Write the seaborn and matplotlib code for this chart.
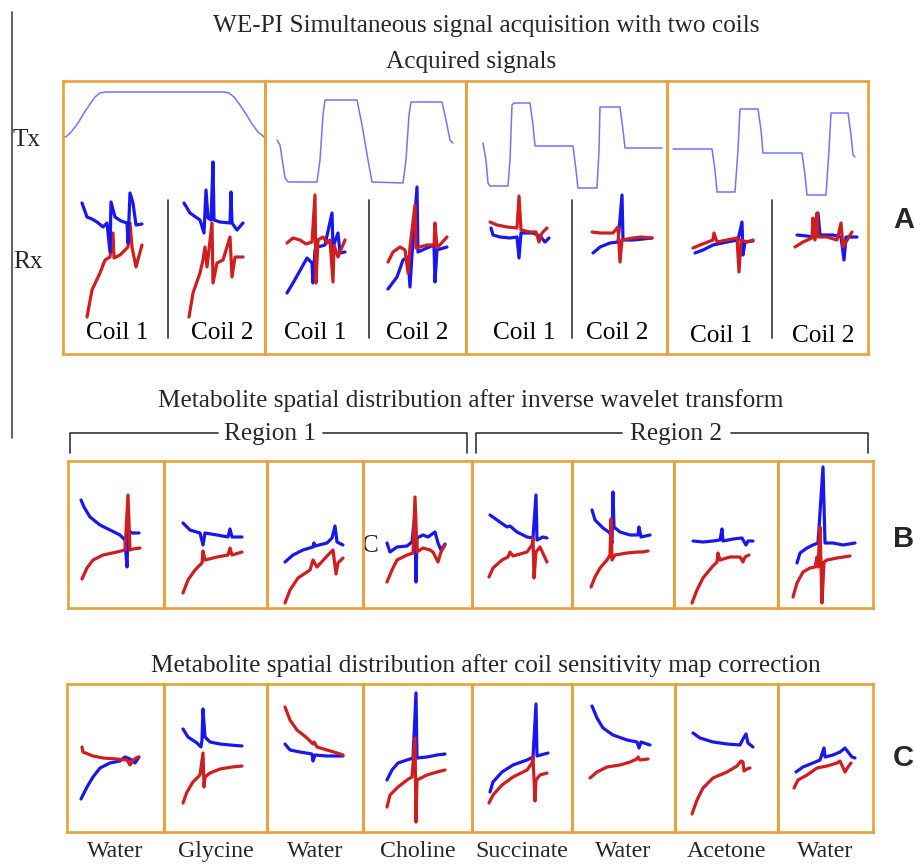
import matplotlib
matplotlib.use("Agg")
import matplotlib.pyplot as plt
import seaborn as sns

# ------------------------------------------------------------------ data
# Panel A (acquired signals): Tx waveform + Rx spectra for coil 1 / coil 2
a1_tx_x = [0, 4, 9, 15, 21, 27, 32, 37, 43, 161, 166, 171, 177, 183, 189, 195, 200, 202]
a1_tx_y = [216, 218, 223, 231, 241, 250, 257, 261, 262, 262, 261, 257, 249, 240, 230, 222, 218, 216]
a1_blue1_x = [19, 24, 29, 34, 40, 44, 47, 48, 52, 58, 64, 65, 67, 70, 73, 79]
a1_blue1_y = [151, 137, 135, 132, 127, 131, 102, 152, 137, 133, 131, 111, 161, 151, 129, 130]
a1_red1_x = [24, 29, 37, 42, 47, 50, 51, 57, 62, 65, 67, 69, 73, 79]
a1_red1_y = [37, 64, 81, 94, 97, 121, 96, 99, 104, 107, 131, 107, 87, 109]
a1_blue2_x = [121, 127, 137, 141, 143, 145, 148, 150, 151, 157, 167, 168, 169, 174, 180]
a1_blue2_y = [151, 141, 134, 121, 164, 136, 134, 192, 134, 132, 131, 162, 131, 124, 131]
a1_red2_x = [126, 130, 137, 140, 142, 144, 149, 150, 154, 160, 167, 169, 172, 180]
a1_red2_y = [37, 61, 81, 94, 107, 87, 131, 71, 91, 94, 117, 77, 97, 97]

a2_tx_x = [12, 15, 20, 23, 52, 55, 58, 60, 92, 97, 103, 107, 138, 141, 144, 146, 177, 181, 185, 188]
a2_tx_y = [214, 209, 176, 172, 172, 194, 239, 254, 254, 229, 194, 172, 171, 194, 239, 252, 252, 234, 214, 211]
a2_blue1_x = [22, 28, 37, 42, 47, 48, 50, 53, 60, 67, 68, 73, 75, 80]
a2_blue1_y = [61, 71, 87, 96, 91, 71, 104, 107, 109, 141, 107, 121, 101, 102]
a2_red1_x = [22, 28, 35, 41, 47, 50, 51, 53, 58, 62, 65, 68, 69, 73, 80]
a2_red1_y = [111, 116, 114, 110, 112, 159, 71, 114, 117, 111, 114, 72, 109, 97, 114]
a2_blue2_x = [123, 132, 138, 143, 145, 147, 152, 153, 162, 169, 170, 172, 182]
a2_blue2_y = [65, 77, 94, 97, 67, 99, 167, 102, 106, 109, 72, 104, 107]
a2_red2_x = [123, 128, 135, 140, 143, 145, 150, 151, 162, 169, 170, 172, 182]
a2_red2_y = [92, 102, 107, 104, 81, 107, 149, 106, 109, 109, 131, 106, 117]

a3_tx_x = [17, 20, 22, 24, 42, 44, 46, 48, 64, 67, 69, 71, 107, 110, 112, 114, 131, 133,
           134, 136, 154, 157, 159, 161, 196]
a3_tx_y = [211, 194, 171, 168, 168, 194, 249, 251, 251, 229, 208, 208, 208, 184, 166, 166,
           166, 204, 247, 247, 247, 224, 206, 206, 206]
a3_blue1_x = [25, 27, 34, 44, 51, 53, 55, 67, 74, 79, 83]
a3_blue1_y = [126, 119, 117, 116, 117, 96, 121, 121, 118, 112, 116]
a3_red1_x = [24, 31, 41, 51, 53, 55, 64, 70, 73, 76, 81]
a3_red1_y = [132, 129, 127, 126, 158, 124, 122, 122, 112, 121, 126]
a3_blue2_x = [127, 134, 144, 152, 156, 157, 167, 177, 186]
a3_blue2_y = [101, 107, 111, 112, 159, 114, 114, 115, 116]
a3_red2_x = [126, 134, 147, 152, 154, 156, 167, 175, 186]
a3_red2_y = [122, 121, 121, 127, 92, 114, 116, 117, 116]

a4_tx_x = [6, 45, 48, 50, 68, 71, 73, 91, 94, 96, 135, 138, 140, 159, 162, 164, 181, 184, 186, 188]
a4_tx_y = [205, 205, 184, 162, 162, 204, 245, 245, 224, 201, 201, 179, 159, 159, 204, 241, 241,
           219, 199, 197]
a4_blue1_x = [28, 36, 46, 60, 71, 75, 76, 78, 86]
a4_blue1_y = [101, 104, 109, 112, 114, 132, 99, 112, 113]
a4_red1_x = [26, 33, 46, 47, 50, 60, 70, 72, 74, 80, 86]
a4_red1_y = [106, 109, 114, 121, 112, 114, 116, 82, 114, 112, 114]
a4_blue2_x = [130, 140, 146, 151, 153, 166, 174, 177, 179, 190]
a4_blue2_y = [119, 118, 117, 141, 119, 119, 117, 94, 117, 117]
a4_red2_x = [128, 136, 145, 146, 148, 150, 151, 160, 170, 174, 176, 185]
a4_red2_y = [107, 112, 116, 136, 114, 141, 117, 117, 114, 131, 107, 122]

# Panel B (after inverse wavelet transform)
b1_blue_x = [13, 16, 22, 32, 42, 52, 57, 59, 60, 64, 71]
b1_blue_y = [108, 101, 91, 83, 78, 73, 68, 41, 78, 75, 75]
b1_red_x = [14, 19, 25, 35, 49, 57, 60, 62, 65, 72]
b1_red_y = [29, 40, 48, 53, 56, 58, 113, 58, 59, 60]
b2_blue_x = [19, 26, 36, 39, 41, 53, 64, 66, 68, 78]
b2_blue_y = [85, 78, 75, 63, 75, 73, 71, 79, 71, 71]
b2_red_x = [19, 24, 31, 38, 39, 41, 53, 64, 66, 68, 78]
b2_red_y = [15, 28, 38, 45, 57, 48, 51, 53, 60, 53, 56]
b3_blue_x = [18, 26, 36, 46, 47, 48, 60, 65, 68, 70, 76]
b3_blue_y = [46, 53, 58, 61, 65, 62, 65, 70, 82, 66, 63]
b3_red_x = [18, 23, 31, 43, 46, 50, 61, 66, 69, 71, 76]
b3_red_y = [5, 18, 30, 38, 48, 41, 53, 58, 34, 45, 50]
b4_blue_x = [24, 27, 34, 44, 49, 52, 53, 54, 60, 65, 72, 75, 78, 82]
b4_blue_y = [65, 56, 61, 62, 66, 95, 26, 70, 73, 71, 76, 65, 58, 64]
b4_red_x = [24, 29, 34, 44, 50, 52, 54, 60, 67, 70, 75, 78, 82]
b4_red_y = [26, 38, 48, 53, 55, 111, 56, 60, 58, 56, 46, 56, 63]
b5_blue_x = [18, 25, 35, 38, 45, 55, 61, 64, 65, 71, 75]
b5_blue_y = [93, 88, 81, 82, 76, 71, 70, 113, 68, 71, 70]
b5_red_x = [17, 21, 30, 36, 38, 41, 55, 60, 61, 62, 64, 68, 75]
b5_red_y = [31, 40, 48, 51, 56, 52, 56, 63, 70, 30, 56, 61, 46]
b6_blue_x = [20, 23, 31, 38, 40, 41, 42, 48, 58, 66, 67, 69, 78]
b6_blue_y = [98, 88, 80, 75, 65, 116, 81, 76, 73, 73, 81, 71, 73]
b6_red_x = [19, 23, 28, 35, 38, 39, 40, 43, 55, 65, 70, 76]
b6_red_y = [21, 31, 40, 48, 53, 89, 48, 53, 55, 56, 56, 57]
b7_blue_x = [19, 29, 39, 46, 48, 49, 59, 68, 72, 74, 79]
b7_blue_y = [67, 66, 67, 68, 79, 67, 69, 70, 63, 67, 67]
b7_red_x = [18, 23, 29, 38, 43, 44, 46, 56, 66, 69, 71, 75]
b7_red_y = [5, 18, 30, 41, 46, 55, 48, 51, 51, 46, 51, 53]
b8_blue_x = [19, 22, 29, 35, 40, 45, 47, 55, 65, 77]
b8_blue_y = [45, 55, 60, 63, 65, 141, 65, 65, 63, 65]
b8_red_x = [15, 19, 25, 32, 37, 39, 40, 42, 44, 46, 49, 59, 72]
b8_red_y = [11, 25, 36, 40, 41, 51, 41, 81, 5, 46, 48, 50, 52]

# Panel C (after coil sensitivity map correction)
c1_blue_x = [14, 20, 26, 33, 43, 53, 58, 63, 68, 72]
c1_blue_y = [33, 45, 55, 64, 69, 71, 75, 73, 69, 75]
c1_red_x = [15, 16, 26, 36, 50, 60, 63, 66, 71]
c1_red_y = [85, 80, 76, 74, 73, 72, 67, 72, 75]
c2_blue_x = [19, 24, 33, 37, 38, 39, 41, 46, 56, 66, 78]
c2_blue_y = [103, 95, 89, 85, 92, 123, 95, 90, 88, 87, 86]
c2_red_x = [19, 23, 29, 36, 39, 40, 41, 46, 56, 68, 78]
c2_red_y = [29, 40, 50, 57, 79, 45, 55, 59, 63, 65, 66]
c3_blue_x = [18, 23, 33, 45, 46, 48, 60, 76]
c3_blue_y = [88, 82, 80, 78, 71, 77, 76, 76]
c3_red_x = [18, 23, 30, 40, 46, 47, 50, 60, 70, 76]
c3_red_y = [125, 112, 102, 94, 88, 90, 85, 82, 79, 77]
c4_blue_x = [24, 29, 35, 44, 50, 53, 54, 64, 74, 82]
c4_blue_y = [52, 62, 69, 72, 74, 139, 74, 75, 77, 78]
c4_red_x = [24, 27, 35, 44, 49, 52, 53, 54, 64, 74, 82]
c4_red_y = [25, 37, 45, 52, 55, 94, 10, 52, 57, 60, 62]
c5_blue_x = [18, 21, 30, 41, 55, 61, 64, 65, 76]
c5_blue_y = [40, 50, 60, 67, 72, 75, 128, 76, 79]
c5_red_x = [17, 21, 30, 41, 55, 60, 61, 63, 64, 68, 75]
c5_red_y = [29, 37, 47, 55, 62, 69, 75, 31, 52, 57, 59]
c6_blue_x = [20, 25, 31, 41, 55, 65, 67, 69, 78]
c6_blue_y = [126, 114, 104, 97, 92, 90, 84, 90, 87]
c6_red_x = [18, 25, 35, 48, 58, 65, 66, 68, 76]
c6_red_y = [54, 60, 65, 67, 70, 73, 75, 72, 73]
c7_blue_x = [18, 25, 38, 52, 65, 68, 71, 73, 78]
c7_blue_y = [99, 94, 90, 88, 87, 93, 98, 89, 85]
c7_red_x = [17, 22, 28, 38, 52, 62, 66, 68, 69, 72, 75]
c7_red_y = [18, 32, 44, 54, 60, 66, 71, 70, 61, 63, 64]
c8_blue_x = [18, 25, 35, 42, 46, 47, 55, 62, 67, 70, 74, 77]
c8_blue_y = [60, 65, 69, 72, 84, 75, 77, 80, 84, 80, 75, 74]
c8_red_x = [16, 20, 29, 39, 49, 59, 62, 67, 70, 73]
c8_red_y = [44, 52, 57, 64, 66, 69, 71, 60, 65, 69]

coil_labels = ["Coil 1", "Coil 2"]
metabolites = ["Water", "Glycine", "Water", "Choline", "Succinate", "Water", "Acetone", "Water"]
region_labels = ["Region 1", "Region 2"]

# ------------------------------------------------------------------ layout / style
FIG_W, FIG_H = 914, 865
A_EDGES = [63, 265, 466, 667, 868]
A_TOP, A_BOT = 81, 354
B_EDGES = [68, 164, 267, 363, 472, 572, 674, 778, 873]
B_TOP, B_BOT = 461, 608
C_EDGES = [67, 164, 267, 363, 472, 572, 675, 778, 873]
C_TOP, C_BOT = 684, 832
A_DIVIDER_X = [105, 104, 106, 105]
A_COIL_X = [(54, 159), (50, 152), (58, 151), (54, 156)]
A_COIL_BASE = [15, 15, 15, 12]

ORANGE = "#E8A23A"
BLUE = "#1717EE"
RED = "#D01E1E"
TXC = "#7373FF"
SERIF = "Liberation Serif"
SANS = "Liberation Sans"
FS = 18.2

sns.set_theme(style="white")
plt.rcParams["font.family"] = [SERIF, "DejaVu Serif"]

fig = plt.figure(figsize=(FIG_W / 100, FIG_H / 100), dpi=100)
fig.patch.set_facecolor("white")

bg = fig.add_axes([0, 0, 1, 1])
bg.set_xlim(0, FIG_W)
bg.set_ylim(FIG_H, 0)
bg.axis("off")


def add_box(left, right, top, bottom):
    ax = fig.add_axes([left / FIG_W, 1 - bottom / FIG_H,
                       (right - left) / FIG_W, (bottom - top) / FIG_H])
    ax.set_facecolor("none")
    return ax


def finish(ax, w, h):
    ax.set_xlim(0, w)
    ax.set_ylim(0, h)
    ax.set_xticks([])
    ax.set_yticks([])
    ax.set_xlabel("")
    ax.set_ylabel("")
    for s in ax.spines.values():
        s.set_visible(True)
        s.set_color(ORANGE)
        s.set_linewidth(1.9)


def trace(ax, x, y, color, lw=2.3):
    sns.lineplot(x=x, y=y, ax=ax, color=color, linewidth=lw, sort=False,
                 estimator=None, legend=False, solid_joinstyle="round",
                 solid_capstyle="round")


# ---- Panel A
A_SERIES = [
    (a1_tx_x, a1_tx_y, [(a1_blue1_x, a1_blue1_y, a1_red1_x, a1_red1_y),
                        (a1_blue2_x, a1_blue2_y, a1_red2_x, a1_red2_y)]),
    (a2_tx_x, a2_tx_y, [(a2_blue1_x, a2_blue1_y, a2_red1_x, a2_red1_y),
                        (a2_blue2_x, a2_blue2_y, a2_red2_x, a2_red2_y)]),
    (a3_tx_x, a3_tx_y, [(a3_blue1_x, a3_blue1_y, a3_red1_x, a3_red1_y),
                        (a3_blue2_x, a3_blue2_y, a3_red2_x, a3_red2_y)]),
    (a4_tx_x, a4_tx_y, [(a4_blue1_x, a4_blue1_y, a4_red1_x, a4_red1_y),
                        (a4_blue2_x, a4_blue2_y, a4_red2_x, a4_red2_y)]),
]
for i, (tx, ty, coils) in enumerate(A_SERIES):
    left, right = A_EDGES[i], A_EDGES[i + 1]
    w, h = right - left, A_BOT - A_TOP
    ax = add_box(left, right, A_TOP, A_BOT)
    trace(ax, tx, ty, TXC, lw=1.1)
    for bx, by, rx, ry in coils:
        if i == 0:
            trace(ax, rx, ry, RED)
            trace(ax, bx, by, BLUE)
        else:
            trace(ax, bx, by, BLUE)
            trace(ax, rx, ry, RED)
    ax.plot([A_DIVIDER_X[i]] * 2, [16, 154], color="#333333", lw=1.2)
    for cx, lab in zip(A_COIL_X[i], coil_labels):
        ax.text(cx, A_COIL_BASE[i], lab, ha="center", va="baseline",
                fontsize=FS, family=SERIF, color="black")
    finish(ax, w, h)

# ---- Panels B and C
B_SERIES = [(b1_blue_x, b1_blue_y, b1_red_x, b1_red_y),
            (b2_blue_x, b2_blue_y, b2_red_x, b2_red_y),
            (b3_blue_x, b3_blue_y, b3_red_x, b3_red_y),
            (b4_blue_x, b4_blue_y, b4_red_x, b4_red_y),
            (b5_blue_x, b5_blue_y, b5_red_x, b5_red_y),
            (b6_blue_x, b6_blue_y, b6_red_x, b6_red_y),
            (b7_blue_x, b7_blue_y, b7_red_x, b7_red_y),
            (b8_blue_x, b8_blue_y, b8_red_x, b8_red_y)]
C_SERIES = [(c1_blue_x, c1_blue_y, c1_red_x, c1_red_y),
            (c2_blue_x, c2_blue_y, c2_red_x, c2_red_y),
            (c3_blue_x, c3_blue_y, c3_red_x, c3_red_y),
            (c4_blue_x, c4_blue_y, c4_red_x, c4_red_y),
            (c5_blue_x, c5_blue_y, c5_red_x, c5_red_y),
            (c6_blue_x, c6_blue_y, c6_red_x, c6_red_y),
            (c7_blue_x, c7_blue_y, c7_red_x, c7_red_y),
            (c8_blue_x, c8_blue_y, c8_red_x, c8_red_y)]

for edges, top, bot, series in [(B_EDGES, B_TOP, B_BOT, B_SERIES),
                                (C_EDGES, C_TOP, C_BOT, C_SERIES)]:
    for i, (bx, by, rx, ry) in enumerate(series):
        left, right = edges[i], edges[i + 1]
        ax = add_box(left, right, top, bot)
        trace(ax, bx, by, BLUE)
        trace(ax, rx, ry, RED)
        finish(ax, right - left, bot - top)

# ---- texts on background
bg.plot([12, 12], [12, 438], color="#444444", lw=1.2)
bg.text(486, 32, "WE-PI Simultaneous signal acquisition with two coils",
        ha="center", va="baseline", fontsize=FS, family=SERIF)
bg.text(471, 68, "Acquired signals", ha="center", va="baseline", fontsize=FS, family=SERIF)
bg.text(13, 146, "Tx", ha="left", va="baseline", fontsize=FS, family=SERIF)
bg.text(13, 268, "Rx", ha="left", va="baseline", fontsize=FS, family=SERIF)
bg.text(471, 407, "Metabolite spatial distribution after inverse wavelet transform",
        ha="center", va="baseline", fontsize=FS, family=SERIF)
bg.text(486, 672, "Metabolite spatial distribution after coil sensitivity map correction",
        ha="center", va="baseline", fontsize=FS, family=SERIF)
bg.text(370, 552, "C", ha="center", va="baseline", fontsize=FS, family=SERIF)

# brackets
for (x0, x1, tx0, tx1, cx), lab in zip([(70, 467, 218, 323, 270), (476, 868, 622, 731, 676)],
                                       region_labels):
    bg.plot([x0, x0, tx0], [453, 433, 433], color="#333333", lw=1.2)
    bg.plot([tx1, x1, x1], [433, 433, 453], color="#333333", lw=1.2)
    bg.text(cx, 440, lab, ha="center", va="baseline", fontsize=FS, family=SERIF)

for i, lab in enumerate(metabolites):
    cx = (C_EDGES[i] + C_EDGES[i + 1]) / 2
    bg.text(cx, 857, lab, ha="center", va="baseline", fontsize=17.2, family=SERIF)

for lab, yb in zip(["A", "B", "C"], [228, 547, 766]):
    bg.text(893, yb, lab, ha="left", va="baseline", fontsize=21, family=SANS,
            fontweight="bold")

fig.savefig("out.png", dpi=100, facecolor="white")
